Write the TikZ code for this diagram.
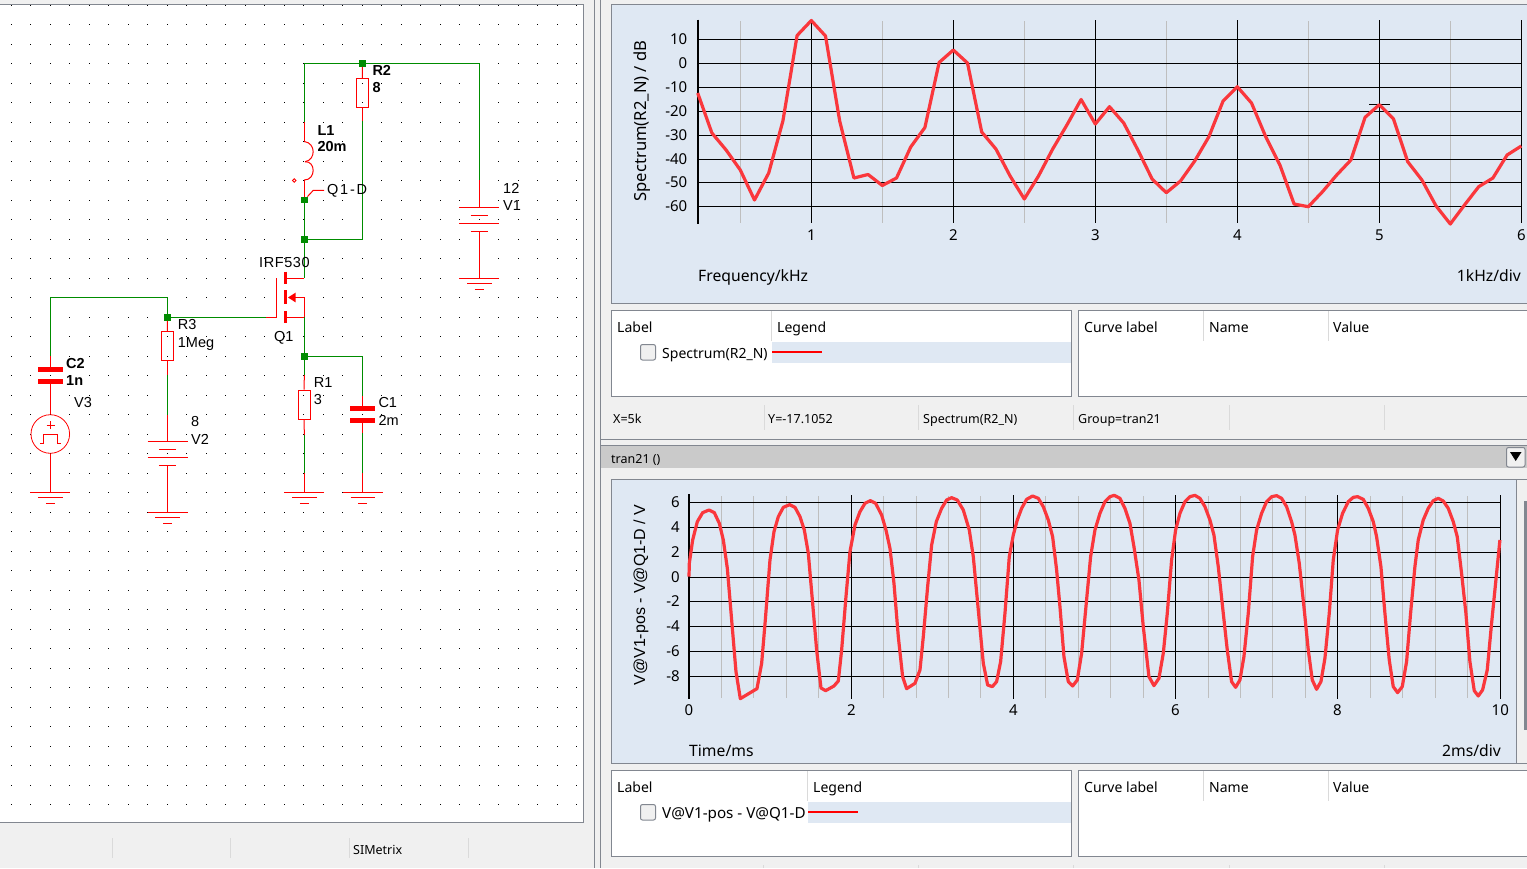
\documentclass[tikz,border=0pt]{standalone}
\usepackage{fontspec}
\setmainfont{Liberation Sans}
\newfontfamily\plotfont{Noto Sans}
\definecolor{winbg}{RGB}{240,240,240}
\definecolor{panelline}{RGB}{130,135,144}
\definecolor{plotbg}{RGB}{223,232,243}
\definecolor{wiregreen}{RGB}{0,140,0}
\definecolor{curvered}{RGB}{250,55,60}
\definecolor{minorgrey}{RGB}{190,190,190}
\definecolor{sepgrey}{RGB}{218,218,218}
\definecolor{bandgrey}{RGB}{202,202,202}

\tikzset{
  wire/.style={draw=wiregreen, line width=1pt},
  part/.style={draw=red, line width=1pt},
  plate/.style={draw=red, line width=4.4pt},
  gatebar/.style={draw=red, line width=3pt},
  rbody/.style={draw=red, line width=1pt, minimum width=12pt, minimum height=29pt, inner sep=0pt},
  junction/.style={fill=wiregreen, minimum size=6.5pt, inner sep=0pt},
  schem/.style={font=\fontsize{14.5}{15}\selectfont, anchor=mid west, inner sep=0pt, yshift=-2.5pt},
  schembold/.style={schem, font=\fontsize{14.5}{15}\selectfont\bfseries},
  panel/.style={draw=panelline, line width=1pt},
  ticklbl/.style={font=\plotfont\fontsize{15}{16}\selectfont, inner sep=0pt, yshift=-2.5pt},
  plotlbl/.style={font=\plotfont\fontsize{15.7}{17}\selectfont, inner sep=0pt, yshift=-2.5pt},
  ylbl/.style={font=\plotfont\fontsize{16.6}{18}\selectfont, inner sep=0pt, rotate=90},
  smalllbl/.style={font=\plotfont\fontsize{12.5}{14}\selectfont, inner sep=0pt, anchor=mid west, yshift=-2.5pt},
  listlbl/.style={font=\plotfont\fontsize{14}{16}\selectfont, inner sep=0pt, anchor=mid west, yshift=-2.5pt},
  gridline/.style={draw=black, line width=1pt},
  minorline/.style={draw=minorgrey, line width=1pt},
  curve/.style={draw=curvered, line width=3.2pt, line join=round},
  sepline/.style={draw=sepgrey, line width=1pt},
  pics/gndsym/.style={code={
    \draw[part] (-20,0) -- (20,0);
    \draw[part] (-12.3,5.5) -- (12.3,5.5);
    \draw[part] (-4.5,11.5) -- (4.5,11.5);
  }},
  pics/cellsym/.style={code={
    \draw[part] (-20,0) -- (20,0);
    \draw[part] (-8.7,8) -- (8.7,8);
    \draw[part] (-20,16) -- (20,16);
    \draw[part] (-8.7,24) -- (8.7,24);
  }}
}

\begin{document}
\begin{tikzpicture}[x=1pt,y=-1pt]
   \useasboundingbox (0,0) rectangle (1527,868);
   \clip (0,0) rectangle (1527,868);
   \fill[winbg] (0,0) rectangle (1527,868);

   % schematic sheet
   \fill[white] (0,4.5) rectangle (583.5,822.5);
   \draw[panel] (0,4.5) -- (583.5,4.5) -- (583.5,822.5) -- (0,822.5);
   \foreach \i in {0,...,29}
     \foreach \j in {0,...,41}
       \fill[black] (10.8+19.5*\i,4.8+19.5*\j) rectangle +(1,1);

   % splitters
   \draw[panel] (594.5,0) -- (594.5,868);
   \draw[panel] (600.5,0) -- (600.5,868);
   \draw[panel] (600.5,439.5) -- (1527,439.5);
   \fill[bandgrey] (601,445) rectangle (1527,468);
   \draw[panel] (601,445) -- (1527,445);

   % status bar of the schematic
   \foreach \sx in {112,230,349,468}
     \draw[sepline] (\sx,838) -- (\sx,858);
   \node[smalllbl] (simetrix) at (353,849.5) {SIMetrix};

   % supply and load
   \node[junction] (nR2) at (362.3,63.3) {};
   \coordinate (topL) at (304.3,63.3);
   \coordinate (topR) at (479.3,63.3);
   \coordinate (L1w) at (304.3,122);
   \coordinate (L1a) at (304.3,141.5);
   \coordinate (L1m) at (305,161.7);
   \coordinate (L1b) at (304.3,180);
   \node[junction] (nQD) at (304.3,200) {};
   \node[junction] (nDr) at (304.3,239.5) {};
   \node[rbody] (R2) at (362.5,93) {};
   \coordinate (R2w) at (362.5,121);
   \coordinate (R2c) at (362.5,239.5);
   \draw[wire] (topL) -- (nR2);
   \draw[wire] (nR2) -- (topR);
   \draw[wire] (L1w) -- (topL);
   \draw[part] (L1w) -- (L1a);
   \draw[part] (L1a) .. controls (316,143) and (316,160) .. (L1m);
   \draw[part] (L1m) .. controls (316,161) and (316,180) .. (L1b);
   \draw[part] (L1b) -- (nQD);
   \draw[wire] (nQD) -- (nDr);
   \draw[part] (nR2) -- (R2);
   \draw[part] (R2) -- (R2w);
   \draw[wire] (R2w) -- (R2c) -- (nDr);
   \node[draw=red, circle, line width=.8pt, minimum size=3.5pt, inner sep=0pt] (L1dot) at (294.3,180.5) {};

   % probe
   \coordinate (prK) at (313.3,190.3);
   \coordinate (prE) at (324,190.3);
   \draw[part] (nQD) -- (prK) -- (prE);
   \node[schem] (prlbl) at (327,189.5) {\addfontfeature{LetterSpace=12}Q1-D};

   % V1
   \coordinate (V1w) at (479.3,180);
   \coordinate (V1t) at (479.3,207);
   \coordinate (V1b) at (479.3,231);
   \coordinate (V1g) at (479.3,278.3);
   \draw[wire] (topR) -- (V1w);
   \draw[part] (V1w) -- (V1t);
   \pic at (V1t) {cellsym};
   \draw[part] (V1b) -- (V1g);
   \pic at (V1g) {gndsym};
   \node[schem] (V1val) at (503,188) {12};
   \node[schem] (V1lbl) at (503,205) {V1};

   % Q1
   \coordinate (Qd) at (304.3,278.3);
   \coordinate (Qdb) at (285.5,278.3);
   \coordinate (Qs) at (304.3,317.3);
   \coordinate (Qsb) at (285.5,317.3);
   \coordinate (Qb) at (304.3,297.5);
   \coordinate (Qg) at (276,317.3);
   \coordinate (Qgt) at (276,278);
   \coordinate (Qgw) at (266,317.3);
   \node[junction] (nSo) at (304.3,356.3) {};
   \draw[wire] (nDr) -- (Qd);
   \draw[part] (Qd) -- (Qdb);
   \draw[gatebar] (285.5,271.7) -- (285.5,284.3);
   \draw[gatebar] (285.5,290) -- (285.5,304);
   \draw[gatebar] (285.5,311) -- (285.5,322.7);
   \draw[part] (Qsb) -- (Qs) -- (Qb) -- (289,297.5);
   \fill[red] (288,297.5) -- (295.5,292.7) -- (295.5,302.3) -- cycle;
   \draw[part] (Qgt) -- (Qg) -- (Qgw);
   \draw[wire] (Qs) -- (nSo);
   \node[schem] (Qtype) at (259,262.5) {\addfontfeature{LetterSpace=4}IRF530};
   \node[schem] (Qlbl) at (274,336) {Q1};

   % gate side
   \node[junction] (nGa) at (167.3,317.3) {};
   \coordinate (C2w) at (50.3,297.3);
   \coordinate (C2j) at (167.3,297.3);
   \coordinate (C2a) at (50.3,356);
   \draw[wire] (Qgw) -- (nGa);
   \draw[wire] (nGa) -- (C2j) -- (C2w) -- (C2a);
   \draw[part] (C2a) -- (50.3,369);
   \draw[plate] (38,369.3) -- (63,369.3);
   \draw[plate] (38,381.3) -- (63,381.3);
   \node[draw=red, circle, line width=.8pt, minimum size=38.6pt, inner sep=0pt] (V3) at (50.3,434) {};
   \coordinate (V3g) at (50.3,492.3);
   \draw[part] (50.3,381) -- (V3);
   \draw[part] (V3) -- (V3g);
   \pic at (V3g) {gndsym};
   \draw[part] (46.5,425) -- (54.5,425);
   \draw[part] (50.5,421) -- (50.5,429);
   \draw[part] (40,443.3) -- (43.3,443.3) -- (43.3,434.7) -- (57.7,434.7) -- (57.7,443.3) -- (60.7,443.3);
   \node[schembold] (C2lbl) at (66,363.3) {C2};
   \node[schembold] (C2val) at (66,380.7) {1n};
   \node[schem] (V3lbl) at (74,402.7) {V3};

   % R3 and V2
   \node[rbody] (R3) at (167.5,345.8) {};
   \coordinate (R3w) at (167.5,374.7);
   \coordinate (V2w) at (167.5,415);
   \coordinate (V2t) at (167.5,441.3);
   \coordinate (V2b) at (167.5,465.3);
   \coordinate (V2g) at (167.5,512.3);
   \draw[part] (nGa) -- (R3);
   \draw[part] (R3) -- (R3w);
   \draw[wire] (R3w) -- (V2w);
   \draw[part] (V2w) -- (V2t);
   \pic at (V2t) {cellsym};
   \draw[part] (V2b) -- (V2g);
   \pic at (V2g) {gndsym};
   \node[schem] (R3lbl) at (177.7,324.5) {R3};
   \node[schem] (R3val) at (177.7,342.5) {1Meg};
   \node[schem] (V2val) at (191,421.7) {8};
   \node[schem] (V2lbl) at (191,439) {V2};

   % R1 and C1
   \node[rbody] (R1) at (304,404.7) {};
   \coordinate (R1a) at (304.3,375);
   \coordinate (R1b) at (304.3,435);
   \coordinate (R1c) at (304.3,473.3);
   \coordinate (R1g) at (304.3,492.3);
   \coordinate (C1j) at (362.8,356.3);
   \coordinate (C1a) at (362.8,396);
   \coordinate (C1b) at (362.8,433.3);
   \coordinate (C1c) at (362.8,473.3);
   \coordinate (C1g) at (362.8,492.3);
   \draw[wire] (nSo) -- (R1a);
   \draw[part] (R1a) -- (R1);
   \draw[part] (R1) -- (R1b);
   \draw[wire] (R1b) -- (R1c);
   \draw[part] (R1c) -- (R1g);
   \pic at (R1g) {gndsym};
   \draw[wire] (nSo) -- (C1j) -- (C1a);
   \draw[part] (C1a) -- (362.8,408);
   \draw[plate] (350,408.3) -- (375,408.3);
   \draw[plate] (350,420.3) -- (375,420.3);
   \draw[part] (362.8,420) -- (C1b);
   \draw[wire] (C1b) -- (C1c);
   \draw[part] (C1c) -- (C1g);
   \pic at (C1g) {gndsym};
   \node[schem] (R1lbl) at (313.7,382.3) {R1};
   \node[schem] (R1val) at (313.7,399.3) {3};
   \node[schem] (C1lbl) at (378.3,402.7) {C1};
   \node[schem] (C1val) at (378.3,420) {2m};

   \node[schembold] (R2lbl) at (372.3,70.7) {R2};
   \node[schembold] (R2val) at (372.3,87.7) {8};
   \node[schembold] (L1lbl) at (317.3,130) {L1};
   \node[schembold] (L1val) at (317.3,146.7) {20m};

   % spectrum plot
   \filldraw[fill=plotbg, panel] (611.5,4.5) rectangle (1540,303.5);
   \foreach \sx in {740.3,882.5,1024.5,1166.3,1308.3,1450.5}
     \draw[minorline] (\sx,21) -- (\sx,223);
   \foreach \val/\sy in {10/39.3,0/63.3,-10/87.3,-20/111.3,-30/135.3,-40/159.3,-50/182.3,-60/206.3} {
     \draw[gridline] (698,\sy) -- (1521.3,\sy);
     \node[ticklbl, anchor=mid east] (sy\val) at (687.5,\sy) {\val};
   }
   \foreach \val/\sx in {1/811.3,2/953.3,3/1095.3,4/1237.3,5/1379.3,6/1521.3} {
     \draw[gridline] (\sx,20) -- (\sx,223);
     \node[ticklbl] (sx\val) at (\sx,233) {\val};
   }
   \draw[draw=black, line width=2pt] (698,19.5) -- (698,223.5);
   \draw[draw=black, line width=1pt] (1369,104.7) -- (1390,104.7);
   \begin{scope}[shift={(669.3,0)},x=142pt]
   \draw[curve] plot coordinates {(0.2,93) (0.3,133) (0.4,150) (0.5,170) (0.6,200) (0.7,173) (0.8,121)
     (0.9,35.5) (1.0,20.5) (1.1,36) (1.2,121) (1.3,178) (1.4,174.5) (1.5,185.5) (1.6,178) (1.7,147)
     (1.8,127.5) (1.9,62.5) (2.0,50) (2.1,63) (2.2,132) (2.3,149) (2.4,176) (2.5,199) (2.6,176)
     (2.7,149) (2.8,125) (2.9,99.5) (3.0,124) (3.1,106.7) (3.2,123) (3.3,150) (3.4,179) (3.5,192.7)
     (3.6,181) (3.7,161) (3.8,136.7) (3.9,101) (4.0,86.7) (4.1,103) (4.2,136.7) (4.3,165) (4.4,204)
     (4.5,206.7) (4.6,191.7) (4.7,175) (4.8,160) (4.9,117.3) (5.0,104.7) (5.1,119) (5.2,161.7)
     (5.3,180) (5.4,206) (5.5,224) (5.6,205) (5.7,186.7) (5.8,178) (5.9,155) (6.0,146)};
   \end{scope}
   \node[ylbl] (specy) at (642,121) {Spectrum(R2\_N) / dB};
   \node[plotlbl, anchor=mid west] (specx) at (698,276) {Frequency/kHz};
   \node[plotlbl, anchor=mid east] (specdiv) at (1521,276) {1kHz/div};

   % legend boxes of the spectrum plot
   \filldraw[fill=white, panel] (611.5,310.5) rectangle (1071.5,396.5);
   \filldraw[fill=white, panel] (1078.5,310.5) rectangle (1540,396.5);
   \fill[plotbg] (772,341.5) rectangle (1071,363);
   \draw[sepline] (771,311) -- (771,341);
   \foreach \sx in {1203,1328}
     \draw[sepline] (\sx,311) -- (\sx,341);
   \node[listlbl] (lab1) at (617,327) {Label};
   \node[listlbl] (leg1) at (777,327) {Legend};
   \node[listlbl] (cur1) at (1084,327) {Curve label};
   \node[listlbl] (nam1) at (1209,327) {Name};
   \node[listlbl] (val1) at (1333,327) {Value};
   \draw[draw=panelline, fill=winbg, line width=1pt, rounded corners=2pt] (640.5,344.5) rectangle (655.5,360);
   \node[listlbl] (spec1) at (662,353) {Spectrum(R2\_N)};
   \draw[draw=red, line width=2.5pt] (772,352) -- (822,352);

   % cursor read out
   \foreach \sx in {764,918,1073,1229,1384}
     \draw[sepline] (\sx,405) -- (\sx,430);
   \node[smalllbl] (curx) at (613,418) {X=5k};
   \node[smalllbl] (cury) at (768,418) {Y=-17.1052};
   \node[smalllbl] (curn) at (923,418) {Spectrum(R2\_N)};
   \node[smalllbl] (curg) at (1078,418) {Group=tran21};
   \node[smalllbl] (band) at (611,458) {tran21 ()};
   \draw[draw=panelline, fill=winbg, line width=1pt, rounded corners=2pt] (1506.5,447.5) rectangle (1525,467);
   \fill[black] (1510,452) -- (1521.5,452) -- (1515.7,461) -- cycle;

   % transient plot
   \filldraw[fill=plotbg, panel] (611.5,479.5) rectangle (1516,763.5);
   \fill[winbg] (1516.5,470) rectangle (1527,868);
   \draw[panel] (1516,479.5) -- (1527,479.5);
   \draw[panel] (1516,763.5) -- (1527,763.5);
   \fill[panelline] (1524,501) rectangle (1527,730);
   \foreach \k in {1,2,3,4,6,7,8,9,11,12,13,14,16,17,18,19,21,22,23,24}
     \draw[minorline] (689+32.44*\k,496) -- (689+32.44*\k,698);
   \foreach \val/\sy in {6/502.5,4/527.5,2/552.3,0/577,-2/601.5,-4/626.5,-6/651.5,-8/676.5} {
     \draw[gridline] (689,\sy) -- (1500.3,\sy);
     \node[ticklbl, anchor=mid east] (ty\val) at (680,\sy) {\val};
   }
   \foreach \val/\sx in {2/851.5,4/1013.3,6/1175.3,8/1337.3,10/1500.3} {
     \draw[gridline] (\sx,495) -- (\sx,699);
     \node[ticklbl] (tx\val) at (\sx,708) {\val};
   }
   \node[ticklbl] (tx0) at (689,708) {0};
   \draw[draw=black, line width=2pt] (689,494) -- (689,699);
   \begin{scope}[shift={(610,480)},x=.3333pt,y=-.3333pt]
   \draw[curve] plot coordinates {(237,290) (238,250) (248,180) (262,125) (278,98) (297,90) (313,98) (328,130)
     (340,180) (352,265) (365,420) (378,575) (391,656) (441,626) (455,550) (466,420) (480,240) (492,155)
     (505,110) (520,82) (539,74) (555,82) (570,110) (583,150) (595,220) (608,370) (620,510) (633,624)
     (647,632) (672,618) (685,603) (695,510) (708,350) (720,215) (735,135) (750,95) (765,70) (781,62)
     (797,70) (815,105) (828,150) (840,205) (852,310) (865,470) (878,590) (890,626) (915,610) (930,570)
     (940,470) (953,320) (965,195) (979,125) (995,85) (1010,60) (1025,53) (1042,60) (1060,90) (1078,150)
     (1090,230) (1105,390) (1120,550) (1133,615) (1147,620) (1160,605) (1172,545) (1185,400) (1198,230)
     (1210,165) (1222,120) (1235,85) (1250,58) (1268,48) (1285,55) (1300,80) (1315,120) (1328,170)
     (1340,270) (1350,380) (1362,530) (1375,605) (1388,618) (1402,600) (1415,520) (1428,380) (1442,230)
     (1455,150) (1470,100) (1485,65) (1500,50) (1513,46) (1530,55) (1545,85) (1560,130) (1572,200)
     (1587,300) (1600,440) (1617,590) (1632,617) (1647,595) (1660,520) (1672,400) (1685,240) (1697,150)
     (1710,100) (1725,65) (1740,50) (1755,46) (1770,55) (1785,80) (1800,120) (1812,165) (1825,260)
     (1840,400) (1852,510) (1865,605) (1877,622) (1890,600) (1902,530) (1915,400) (1928,230) (1940,150)
     (1955,100) (1970,65) (1985,50) (2000,47) (2015,55) (2030,80) (2045,125) (2055,165) (2068,250)
     (2082,380) (2095,510) (2107,600) (2120,628) (2133,605) (2145,535) (2158,400) (2170,240) (2183,150)
     (2198,100) (2215,65) (2230,52) (2243,50) (2260,58) (2275,85) (2290,125) (2300,170) (2313,260)
     (2325,400) (2338,540) (2350,620) (2363,638) (2377,620) (2390,545) (2402,400) (2415,260) (2425,180)
     (2440,120) (2455,85) (2470,62) (2485,55) (2500,63) (2515,85) (2530,125) (2542,170) (2555,280)
     (2568,400) (2580,545) (2593,632) (2605,648) (2618,630) (2632,570) (2645,430) (2658,300) (2670,180)};
   \end{scope}
   \node[ylbl, font=\fontsize{16}{17}\selectfont] (trany) at (641,595) {V@V1-pos - V@Q1-D / V};
   \node[plotlbl, anchor=mid west] (tranx) at (689,751) {Time/ms};
   \node[plotlbl, anchor=mid east] (trandiv) at (1501,751) {2ms/div};

   % legend boxes of the transient plot
   \filldraw[fill=white, panel] (611.5,770.5) rectangle (1071.5,856.5);
   \filldraw[fill=white, panel] (1078.5,770.5) rectangle (1540,856.5);
   \fill[plotbg] (808,801.5) rectangle (1071,823);
   \draw[sepline] (807,771) -- (807,801);
   \foreach \sx in {1203,1328}
     \draw[sepline] (\sx,771) -- (\sx,801);
   \node[listlbl] (lab2) at (617,787) {Label};
   \node[listlbl] (leg2) at (813,787) {Legend};
   \node[listlbl] (cur2) at (1084,787) {Curve label};
   \node[listlbl] (nam2) at (1209,787) {Name};
   \node[listlbl] (val2) at (1333,787) {Value};
   \draw[draw=panelline, fill=winbg, line width=1pt, rounded corners=2pt] (640.5,804.5) rectangle (655.5,820);
   \node[listlbl, font=\plotfont\fontsize{15.2}{16}\selectfont] (spec2) at (662,813) {V@V1-pos - V@Q1-D};
   \draw[draw=red, line width=2.5pt] (808,812) -- (858,812);
   \foreach \sx in {763,918,1073,1229,1384}
     \draw[sepline] (\sx,865) -- (\sx,868);
\end{tikzpicture}
\end{document}
